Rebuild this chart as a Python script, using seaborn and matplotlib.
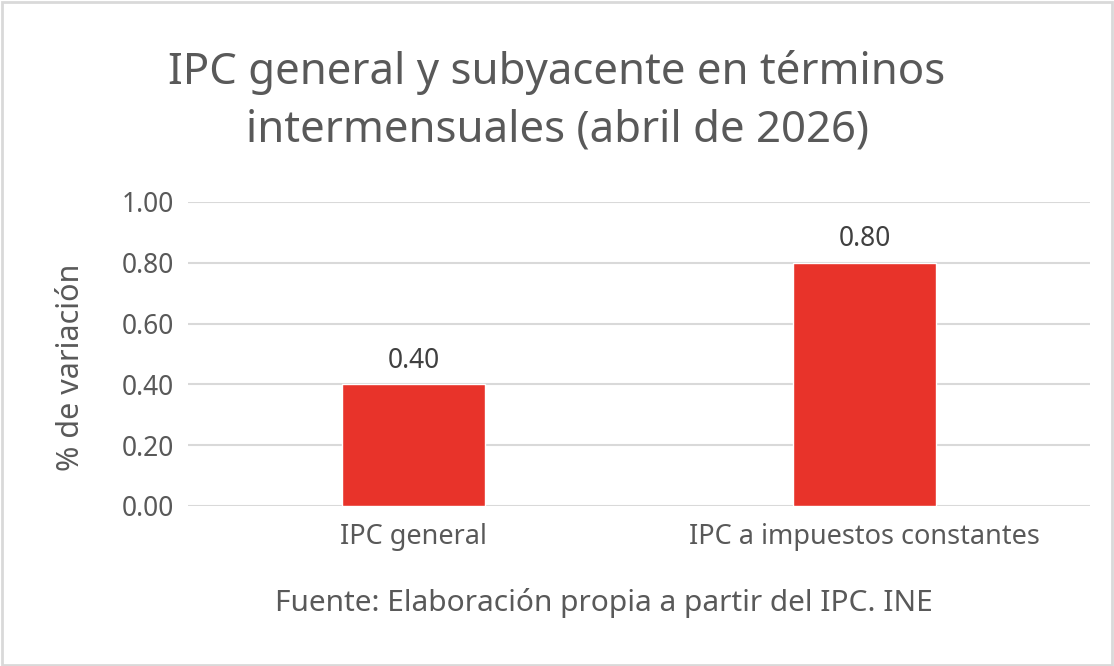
import matplotlib
matplotlib.use("Agg")
import matplotlib.pyplot as plt
import seaborn as sns
import pandas as pd

# Chart data
categories = ["IPC general", "IPC a impuestos constantes"]
values = [0.40, 0.80]
y_ticks = [0.0, 0.2, 0.4, 0.6, 0.8, 1.0]

df = pd.DataFrame({"cat": categories, "val": values})

sns.set_style("white")
plt.rcParams["font.family"] = ["Noto Sans", "DejaVu Sans"]

text_color = "#595959"
bar_color = "#E8332A"
grid_color = "#d9d9d9"

W, H = 1114, 666
fig = plt.figure(figsize=(W / 100, H / 100), dpi=100)
ax = fig.add_axes([188 / W, 1 - 506 / H, (1090 - 188) / W, (506 - 202) / H])

sns.barplot(data=df, x="cat", y="val", color=bar_color, width=0.315,
            saturation=1, ax=ax, zorder=3)

ax.set_ylim(0, 1.0)
ax.set_xlim(-0.5, 1.5)
ax.set_yticks(y_ticks)
ax.set_yticklabels([f"{t:.2f}" for t in y_ticks])
ax.yaxis.grid(True, color=grid_color, linewidth=1.5, zorder=0)
ax.set_axisbelow(True)
for s in ax.spines.values():
    s.set_visible(False)
ax.tick_params(axis="y", length=0, pad=10, labelsize=19, labelcolor=text_color)
ax.tick_params(axis="x", length=0, pad=12, labelsize=19.5, labelcolor=text_color)
ax.set_xlabel("")
ax.set_ylabel("% de variación", fontsize=22, color=text_color)
ax.yaxis.set_label_coords((86 - 188) / (1090 - 188), (506 - 367) / (506 - 202))

# value labels
for i, v in enumerate(values):
    ax.annotate(f"{v:.2f}", (i, v), xytext=(0, 7), textcoords="offset points",
                ha="center", va="bottom", fontsize=19, color="#404040")

fig.text(557 / W, 1 - 101 / H, "IPC general y subyacente en términos\nintermensuales (abril de 2026)",
         ha="center", va="center", fontsize=31.5, color=text_color, linespacing=1.42)
fig.text(604 / W, 1 - 603 / H, "Fuente: Elaboración propia a partir del IPC. INE",
         ha="center", va="center", fontsize=21.5, color=text_color)

# light border round the figure
border = plt.Rectangle((0.002, 0.002), 0.996, 0.995, transform=fig.transFigure,
                       fill=False, edgecolor=grid_color, linewidth=2)
fig.patches.append(border)

fig.savefig("out.png", dpi=100, facecolor="white")
